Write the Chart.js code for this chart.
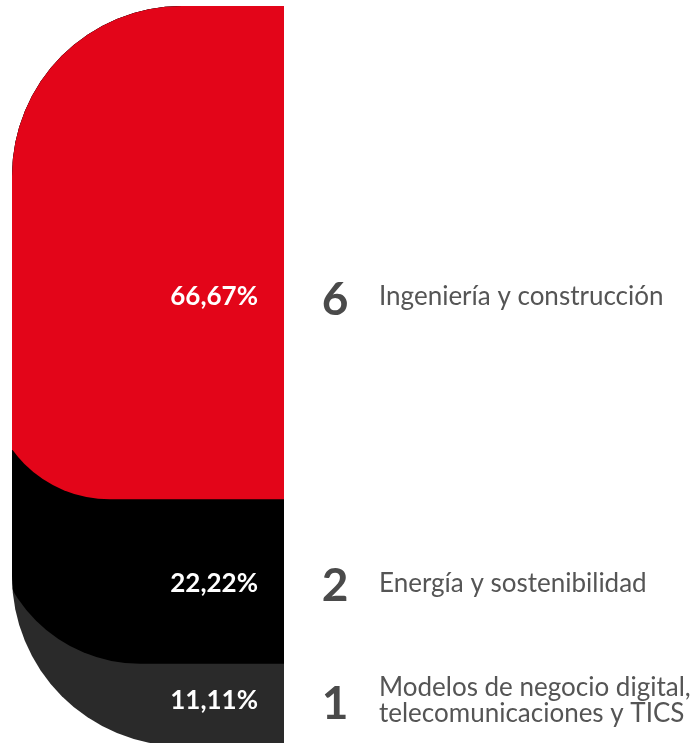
<!DOCTYPE html>
<html>
<head>
<meta charset="utf-8">
<script src="https://cdn.jsdelivr.net/npm/chart.js@4/dist/chart.umd.min.js"></script>
<style>
  html, body { margin: 0; padding: 0; background: #fff; overflow: hidden; }
  #wrap { position: relative; width: 699px; height: 746px; }
</style>
</head>
<body>
<div id="wrap"><canvas id="areasChart"></canvas></div>
<script>
// Proyectos por área (de abajo arriba en la pila)
const areas = [['Modelos de negocio digital,', 'telecomunicaciones y TICS'], 'Energía y sostenibilidad', 'Ingeniería y construcción'];
const proyectos = [1, 2, 6];
const porcentajes = [11.11, 22.22, 66.67];
const colores = ['#2a2a2a', '#000000', '#e30519'];

const fmt = v => v.toFixed(2).replace('.', ',') + '%';

// Dibuja la pila como bloques con la esquina inferior izquierda curvada
const curvedStack = {
    id: 'curvedStack',
    beforeDatasetsDraw(chart) {
        const ctx = chart.ctx;
        const bars = chart.data.datasets.map((ds, i) => chart.getDatasetMeta(i).data[0]);
        const left = bars[0].x - bars[0].width / 2;
        const right = bars[0].x + bars[0].width / 2;
        const top = Math.min(...bars.map(b => b.y));
        const bottom = Math.max(...bars.map(b => b.base));
        const R = 170;

        ctx.save();
        ctx.beginPath();
        ctx.moveTo(right, top);
        ctx.lineTo(left + R, top);
        ctx.arcTo(left, top, left, top + R, R);
        ctx.lineTo(left, bottom - R);
        ctx.arcTo(left, bottom, left + R, bottom, R);
        ctx.lineTo(right, bottom);
        ctx.closePath();
        ctx.clip();

        chart.data.datasets.forEach((ds, i) => {
            const b = bars[i];
            ctx.fillStyle = ds.backgroundColor;
            ctx.beginPath();
            if (i === 0) {
                ctx.rect(left, top, right - left, bottom - top);
            } else {
                const l = left - ds.overhang;
                const r = ds.cornerRadius;
                ctx.moveTo(right, top);
                ctx.lineTo(l, top);
                ctx.lineTo(l, b.base - r);
                ctx.arcTo(l, b.base, l + r, b.base, r);
                ctx.lineTo(right, b.base);
                ctx.closePath();
            }
            ctx.fill();
        });
        ctx.restore();
        return false;
    },
    afterDraw(chart) {
        const ctx = chart.ctx;
        const bottomEdge = chart.height;
        chart.data.datasets.forEach((ds, i) => {
            const b = chart.getDatasetMeta(i).data[0];
            const right = b.x + b.width / 2;
            const segBottom = Math.min(b.base, bottomEdge);
            const y = b.y + (segBottom - b.y) * ds.labelAt;

            ctx.save();
            ctx.textBaseline = 'middle';

            ctx.fillStyle = '#ffffff';
            ctx.textAlign = 'right';
            ctx.font = 'bold 26px Lato';
            ctx.fillText(fmt(ds.data[0]), right - 26, y);

            ctx.fillStyle = '#4a4a4a';
            ctx.textAlign = 'center';
            ctx.font = 'bold 46px Lato';
            ctx.fillText(String(proyectos[i]), right + 51, y + 3);

            ctx.fillStyle = '#555555';
            ctx.textAlign = 'left';
            ctx.font = '26px Lato';
            const lines = Array.isArray(ds.label) ? ds.label : [ds.label];
            const lh = 26;
            lines.forEach((t, k) => {
                ctx.fillText(t, right + 95, y + (k - (lines.length - 1) / 2) * lh);
            });
            ctx.restore();
        });
    }
};

const ctx = document.getElementById('areasChart').getContext('2d');
const areasChart = new Chart(ctx, {
    type: 'bar',
    data: {
        labels: [''],
        datasets: porcentajes.map((p, i) => ({
            label: areas[i],
            data: [p],
            backgroundColor: colores[i],
            overhang: [0, 19, 23][i],
            cornerRadius: [0, 147, 121][i],
            labelAt: [0.45, 0.51, 0.59][i]
        }))
    },
    options: {
        responsive: true,
        maintainAspectRatio: false,
        animation: false,
        layout: {
            padding: { left: 12, right: 415, top: 6, bottom: 0 }
        },
        datasets: {
            bar: { barPercentage: 1, categoryPercentage: 1 }
        },
        plugins: {
            legend: { display: false },
            tooltip: { enabled: false }
        },
        scales: {
            x: { display: false, stacked: true },
            y: { display: false, stacked: true, min: 0, max: 100 }
        }
    },
    plugins: [curvedStack]
});
</script>
</body>
</html>
